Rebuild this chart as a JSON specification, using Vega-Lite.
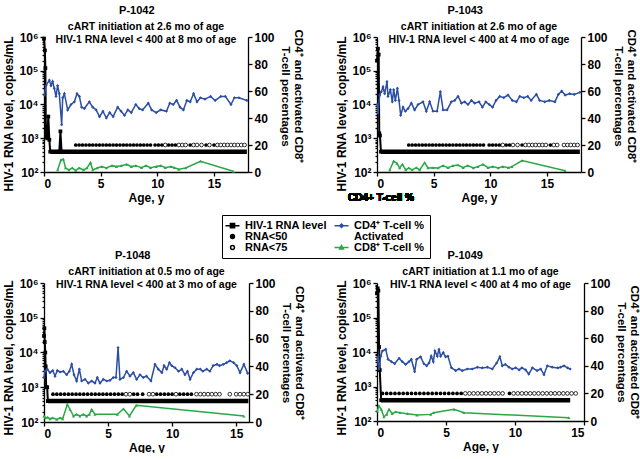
{
"$schema": "https://vega.github.io/schema/vega-lite/v6.json",
"padding": {"left": 2, "top": 5, "right": 0, "bottom": 0},
"background": "white",
"config": {
 "font": "Liberation Sans",
 "view": {"stroke": null},
 "axis": {"grid": false, "domainColor": "black", "domainWidth": 1.3, "tickColor": "black", "tickWidth": 1.3, "tickSize": 4, "labelColor": "black", "titleColor": "black", "labelFontSize": 12, "labelFontWeight": "bold", "titleFontSize": 11.5, "titleFontWeight": "bold", "labelPadding": 2},
 "axisX": {"titlePadding": 3, "titleFontSize": 12},
 "title": {"fontSize": 11, "fontWeight": "bold", "color": "black", "subtitleFontSize": 10.5, "subtitleFontWeight": "bold", "subtitleColor": "black", "subtitlePadding": 6, "subtitleLineHeight": 12.5, "offset": -16, "frame": "group", "anchor": "middle"}
},
"columns": 2,
"bounds": "flush",
"spacing": {"row": 111, "column": 128},
"concat": [
{
 "width": 204, "height": 135,
 "title": {"text": "P-1042\u00a0\u00a0\u00a0\u00a0\u00a0\u00a0\u200b", "subtitle": ["cART initiation at 2.6 mo of age", "HIV-1 RNA level < 400 at 8 mo of age"]},
 "data": {"values": [
  {"s":"hiv","a":0,"v":900000},{"s":"hiv","a":0.08,"v":400000},{"s":"hiv","a":0.12,"v":120000},{"s":"hiv","a":0.17,"v":1100},{"s":"hiv","a":0.28,"v":1000},{"s":"hiv","a":0.38,"v":4400},{"s":"hiv","a":0.47,"v":900},{"s":"hiv","a":0.55,"v":400},{"s":"hiv","a":1.35,"v":400},{"s":"hiv","a":1.45,"v":1600},{"s":"hiv","a":1.55,"v":400},
  {"s":"lo","a":0.55,"v":400},{"s":"lo","a":17.9,"v":400},
  {"s":"cd4","a":0.03,"v":57},{"s":"cd4","a":0.18,"v":64},{"s":"cd4","a":0.47,"v":68},{"s":"cd4","a":0.62,"v":64},{"s":"cd4","a":0.76,"v":67},{"s":"cd4","a":0.91,"v":62},{"s":"cd4","a":1.06,"v":56},{"s":"cd4","a":1.2,"v":64},{"s":"cd4","a":1.35,"v":58},{"s":"cd4","a":1.56,"v":35},{"s":"cd4","a":1.65,"v":55},{"s":"cd4","a":1.8,"v":58},{"s":"cd4","a":2.09,"v":46},{"s":"cd4","a":2.38,"v":50},{"s":"cd4","a":2.68,"v":52},{"s":"cd4","a":2.91,"v":58},{"s":"cd4","a":3.12,"v":56},{"s":"cd4","a":3.32,"v":48},{"s":"cd4","a":3.56,"v":47},{"s":"cd4","a":4.0,"v":52},{"s":"cd4","a":4.3,"v":48},{"s":"cd4","a":4.6,"v":46},{"s":"cd4","a":4.9,"v":41},{"s":"cd4","a":5.2,"v":45},{"s":"cd4","a":5.5,"v":40},{"s":"cd4","a":5.8,"v":44},{"s":"cd4","a":6.1,"v":41},{"s":"cd4","a":6.5,"v":48},{"s":"cd4","a":6.8,"v":45},{"s":"cd4","a":7.1,"v":42},{"s":"cd4","a":7.4,"v":46},{"s":"cd4","a":7.7,"v":44},{"s":"cd4","a":8.1,"v":50},{"s":"cd4","a":8.4,"v":47},{"s":"cd4","a":8.7,"v":46},{"s":"cd4","a":9.2,"v":51},{"s":"cd4","a":9.5,"v":46},{"s":"cd4","a":9.9,"v":44},{"s":"cd4","a":10.3,"v":46},{"s":"cd4","a":10.8,"v":45},{"s":"cd4","a":11.1,"v":51},{"s":"cd4","a":11.4,"v":50},{"s":"cd4","a":11.7,"v":53},{"s":"cd4","a":12.0,"v":48},{"s":"cd4","a":12.3,"v":46},{"s":"cd4","a":12.6,"v":53},{"s":"cd4","a":12.9,"v":52},{"s":"cd4","a":13.2,"v":58},{"s":"cd4","a":13.5,"v":52},{"s":"cd4","a":13.8,"v":55},{"s":"cd4","a":14.2,"v":54},{"s":"cd4","a":14.7,"v":56},{"s":"cd4","a":15.1,"v":53},{"s":"cd4","a":15.6,"v":56},{"s":"cd4","a":16.0,"v":56},{"s":"cd4","a":16.5,"v":50},{"s":"cd4","a":16.8,"v":55},{"s":"cd4","a":17.2,"v":55},{"s":"cd4","a":17.9,"v":53},
  {"s":"cd8","a":1.2,"v":1.5},{"s":"cd8","a":1.5,"v":9},{"s":"cd8","a":1.7,"v":9.5},{"s":"cd8","a":1.9,"v":3},{"s":"cd8","a":2.2,"v":1.5},{"s":"cd8","a":2.5,"v":3},{"s":"cd8","a":2.8,"v":1},{"s":"cd8","a":3.1,"v":3},{"s":"cd8","a":3.5,"v":1.5},{"s":"cd8","a":3.8,"v":3},{"s":"cd8","a":4.1,"v":7},{"s":"cd8","a":4.3,"v":1.5},{"s":"cd8","a":4.7,"v":3},{"s":"cd8","a":5.1,"v":4},{"s":"cd8","a":5.5,"v":3},{"s":"cd8","a":6.0,"v":4.7},{"s":"cd8","a":6.4,"v":4},{"s":"cd8","a":6.8,"v":4.7},{"s":"cd8","a":7.3,"v":5.7},{"s":"cd8","a":7.7,"v":4},{"s":"cd8","a":8.1,"v":4.7},{"s":"cd8","a":8.6,"v":3.2},{"s":"cd8","a":9.0,"v":4.7},{"s":"cd8","a":9.4,"v":3.2},{"s":"cd8","a":9.9,"v":4},{"s":"cd8","a":10.3,"v":4.7},{"s":"cd8","a":10.7,"v":3.2},{"s":"cd8","a":11.2,"v":4},{"s":"cd8","a":11.5,"v":3.2},{"s":"cd8","a":11.9,"v":2},{"s":"cd8","a":12.5,"v":3},{"s":"cd8","a":13.8,"v":8},{"s":"cd8","a":16.7,"v":0.5},
  {"s":"lt50","a":2.8,"v":20},{"s":"lt50","a":3.1,"v":20},{"s":"lt50","a":3.4,"v":20},{"s":"lt50","a":3.7,"v":20},{"s":"lt50","a":4.0,"v":20},{"s":"lt50","a":4.3,"v":20},{"s":"lt50","a":4.6,"v":20},{"s":"lt50","a":4.9,"v":20},{"s":"lt50","a":5.2,"v":20},{"s":"lt50","a":5.5,"v":20},{"s":"lt50","a":5.8,"v":20},{"s":"lt50","a":6.1,"v":20},{"s":"lt50","a":6.4,"v":20},{"s":"lt50","a":6.7,"v":20},{"s":"lt50","a":7.0,"v":20},{"s":"lt50","a":7.3,"v":20},{"s":"lt50","a":7.6,"v":20},{"s":"lt50","a":7.9,"v":20},{"s":"lt50","a":8.2,"v":20},{"s":"lt50","a":8.5,"v":20},{"s":"lt50","a":8.8,"v":20},{"s":"lt50","a":9.1,"v":20},{"s":"lt50","a":9.4,"v":20},{"s":"lt50","a":9.8,"v":20},{"s":"lt50","a":10.1,"v":20},{"s":"lt50","a":10.4,"v":20},{"s":"lt50","a":11.0,"v":20},{"s":"lt50","a":11.3,"v":20},{"s":"lt50","a":11.6,"v":20},{"s":"lt50","a":12.9,"v":20},{"s":"lt50","a":14.3,"v":20},{"s":"lt50","a":15.0,"v":20},
  {"s":"lt75","a":10.7,"v":20},{"s":"lt75","a":11.9,"v":20},{"s":"lt75","a":12.2,"v":20},{"s":"lt75","a":12.5,"v":20},{"s":"lt75","a":13.2,"v":20},{"s":"lt75","a":13.5,"v":20},{"s":"lt75","a":13.9,"v":20},{"s":"lt75","a":14.6,"v":20},{"s":"lt75","a":15.3,"v":20},{"s":"lt75","a":15.6,"v":20},{"s":"lt75","a":15.9,"v":20},{"s":"lt75","a":16.2,"v":20},{"s":"lt75","a":16.5,"v":20},{"s":"lt75","a":16.8,"v":20},{"s":"lt75","a":17.1,"v":20},{"s":"lt75","a":17.4,"v":20},{"s":"lt75","a":17.7,"v":20}
 ]},
 "encoding": {"x": {"field": "a", "type": "quantitative", "scale": {"domain": [0, 18], "nice": false}, "axis": {"values": [0, 5, 10, 15], "title": "Age, y"}}},
 "layer": [
  {"encoding": {"y": {"field": "v", "type": "quantitative", "scale": {"type": "log", "domain": [100, 1000000], "nice": false}, "axis": {"values": [100,200,300,400,500,600,700,800,900,1000,2000,3000,4000,5000,6000,7000,8000,9000,10000,20000,30000,40000,50000,60000,70000,80000,90000,100000,200000,300000,400000,500000,600000,700000,800000,900000,1000000], "tickSize": {"condition": {"test": "abs(log(datum.value)/LN10 - round(log(datum.value)/LN10)) < 0.01", "value": 4}, "value": 2}, "labelExpr": "abs(log(datum.value)/LN10 - round(log(datum.value)/LN10)) < 0.01 ? '10' + ['⁰','¹','²','³','⁴','⁵','⁶'][round(log(datum.value)/LN10)] : ''", "title": "HIV-1 RNA level, copies/mL", "titleFontSize": 12, "titlePadding": 3, "titleY": 76.5}}},
   "layer": [
    {"transform": [{"filter": "datum.s == 'lo'"}], "mark": {"type": "line", "color": "black", "strokeWidth": 4.5}},
    {"transform": [{"filter": "datum.s == 'hiv'"}], "mark": {"type": "line", "color": "black", "strokeWidth": 2, "point": {"shape": "square", "size": 14, "filled": true, "color": "black", "opacity": 1}}}
   ]},
  {"encoding": {"y": {"field": "v", "type": "quantitative", "scale": {"domain": [0, 100], "nice": false}, "axis": {"orient": "right", "values": [0, 20, 40, 60, 80, 100], "title": ["CD4⁺ and activated CD8⁺", "T-cell percentages"], "titleLineHeight": 13, "titlePadding": 5, "titleY": 59}}},
   "layer": [
    {"transform": [{"filter": "datum.s == 'cd4'"}], "mark": {"type": "line", "color": "#2c4ea3", "strokeWidth": 1.5, "point": {"shape": "diamond", "size": 10, "filled": true, "color": "#2c4ea3", "opacity": 1}}},
    {"transform": [{"filter": "datum.s == 'cd8'"}], "mark": {"type": "line", "color": "#2aa845", "strokeWidth": 1.5, "point": {"shape": "triangle-up", "size": 10, "filled": true, "color": "#2aa845", "opacity": 1}}},
    {"transform": [{"filter": "datum.s == 'lt50'"}], "mark": {"type": "point", "shape": "circle", "size": 14, "filled": true, "color": "black", "opacity": 1}},
    {"transform": [{"filter": "datum.s == 'lt75'"}], "mark": {"type": "point", "shape": "circle", "size": 14, "filled": true, "fill": "white", "stroke": "black", "strokeWidth": 0.8, "opacity": 1}},
    {"transform": [{"filter": "datum.s == 'none'"}], "mark": {"type": "point", "filled": true, "opacity": 1, "strokeWidth": 1.5},
     "encoding": {
      "fill": {"field": "s", "type": "nominal", "scale": {"domain": ["hiv","lt50","lt75","cd4","cd8a","cd8"], "range": ["black","black","white","#2c4ea3","transparent","#2aa845"]},
        "legend": {"orient": "none", "legendX": 178, "legendY": 178, "title": null, "columns": 2, "columnPadding": 4, "rowPadding": -2.5, "padding": 5, "strokeColor": "black", "symbolSize": 49, "symbolStrokeWidth": 1.5, "labelOffset": 7, "labelFontSize": 11, "labelFontWeight": "bold", "labelColor": "black", "labelLimit": 200,
          "labelExpr": "datum.label == 'hiv' ? 'HIV-1 RNA level' : datum.label == 'cd4' ? 'CD4⁺ T-cell %' : datum.label == 'lt50' ? 'RNA<50' : datum.label == 'cd8a' ? 'Activated' : datum.label == 'lt75' ? 'RNA<75' : 'CD8⁺ T-cell %'",
          "encode": {"labels": {"update": {"fontSize": {"signal": "datum.value == 'cd8' ? 8.5 : datum.value == 'cd4' ? 9.5 : 11"}, "dy": {"signal": "datum.value == 'cd8a' ? 8 : datum.value == 'cd8' ? 6 : 0"}}}}}},
      "stroke": {"field": "s", "type": "nominal", "scale": {"domain": ["hiv","lt50","lt75","cd4","cd8a","cd8"], "range": ["black","black","black","#2c4ea3","transparent","#2aa845"]}},
      "shape": {"field": "s", "type": "nominal", "scale": {"domain": ["hiv","lt50","lt75","cd4","cd8a","cd8"], "range": ["M-2,0H2M-0.6,-0.6H0.6V0.6H-0.6Z","M-0.55,0A0.55,0.55,0,1,0,0.55,0A0.55,0.55,0,1,0,-0.55,0Z","M-0.55,0A0.55,0.55,0,1,0,0.55,0A0.55,0.55,0,1,0,-0.55,0Z","M-2,0H2M0,-0.5L0.5,0L0,0.5L-0.5,0Z","M0,0","M-2,0H2M0,-0.55L0.55,0.45H-0.55Z"]}}
     }}
   ]}
 ],
 "resolve": {"scale": {"y": "independent"}}
},
{
 "width": 204, "height": 135,
 "title": {"text": "P-1043\u00a0\u00a0\u00a0\u00a0\u00a0\u00a0\u00a0\u00a0\u00a0\u200b", "subtitle": ["cART initiation at 2.6 mo of age", "HIV-1 RNA level < 400 at 4 mo of age"]},
 "data": {"values": [
  {"s":"hiv","a":0,"v":200000},{"s":"hiv","a":0.08,"v":450000},{"s":"hiv","a":0.15,"v":300000},{"s":"hiv","a":0.2,"v":1400},{"s":"hiv","a":0.26,"v":1200},{"s":"hiv","a":0.35,"v":400},
  {"s":"lo","a":0.35,"v":400},{"s":"lo","a":17.9,"v":400},
  {"s":"cd4","a":0.02,"v":50},{"s":"cd4","a":0.09,"v":43.5},{"s":"cd4","a":0.24,"v":57},{"s":"cd4","a":0.38,"v":59.5},{"s":"cd4","a":0.53,"v":63},{"s":"cd4","a":0.68,"v":58},{"s":"cd4","a":0.88,"v":67},{"s":"cd4","a":0.97,"v":56},{"s":"cd4","a":1.18,"v":61},{"s":"cd4","a":1.35,"v":52},{"s":"cd4","a":1.47,"v":61},{"s":"cd4","a":1.62,"v":53},{"s":"cd4","a":1.8,"v":62},{"s":"cd4","a":1.94,"v":53},{"s":"cd4","a":2.09,"v":42},{"s":"cd4","a":2.3,"v":48},{"s":"cd4","a":2.5,"v":45},{"s":"cd4","a":2.74,"v":47},{"s":"cd4","a":3.03,"v":51},{"s":"cd4","a":3.32,"v":46},{"s":"cd4","a":3.62,"v":50},{"s":"cd4","a":4.06,"v":52},{"s":"cd4","a":4.35,"v":45},{"s":"cd4","a":4.65,"v":52},{"s":"cd4","a":4.94,"v":45},{"s":"cd4","a":5.3,"v":45},{"s":"cd4","a":5.59,"v":59.5},{"s":"cd4","a":5.83,"v":46},{"s":"cd4","a":6.18,"v":46},{"s":"cd4","a":6.56,"v":52},{"s":"cd4","a":6.86,"v":53},{"s":"cd4","a":7.15,"v":56},{"s":"cd4","a":7.45,"v":51},{"s":"cd4","a":7.74,"v":52},{"s":"cd4","a":8.03,"v":50},{"s":"cd4","a":8.33,"v":53},{"s":"cd4","a":8.62,"v":51},{"s":"cd4","a":9.0,"v":52},{"s":"cd4","a":9.3,"v":48},{"s":"cd4","a":9.6,"v":52},{"s":"cd4","a":9.9,"v":50},{"s":"cd4","a":10.2,"v":48},{"s":"cd4","a":10.5,"v":53},{"s":"cd4","a":10.83,"v":56},{"s":"cd4","a":11.18,"v":55},{"s":"cd4","a":11.56,"v":57},{"s":"cd4","a":11.94,"v":53},{"s":"cd4","a":12.3,"v":52},{"s":"cd4","a":12.6,"v":56},{"s":"cd4","a":12.95,"v":55},{"s":"cd4","a":13.3,"v":56},{"s":"cd4","a":13.6,"v":53},{"s":"cd4","a":14.06,"v":57.5},{"s":"cd4","a":14.35,"v":53},{"s":"cd4","a":14.8,"v":52},{"s":"cd4","a":15.2,"v":53},{"s":"cd4","a":15.7,"v":52},{"s":"cd4","a":16.0,"v":57.5},{"s":"cd4","a":16.3,"v":60},{"s":"cd4","a":16.6,"v":57},{"s":"cd4","a":17.0,"v":58},{"s":"cd4","a":17.4,"v":57.5},{"s":"cd4","a":17.9,"v":59},
  {"s":"cd8","a":1.12,"v":1.5},{"s":"cd8","a":1.47,"v":8},{"s":"cd8","a":1.76,"v":6.4},{"s":"cd8","a":2.0,"v":3},{"s":"cd8","a":2.24,"v":5.7},{"s":"cd8","a":2.53,"v":1.5},{"s":"cd8","a":2.8,"v":3},{"s":"cd8","a":3.1,"v":1.5},{"s":"cd8","a":3.47,"v":3.2},{"s":"cd8","a":3.77,"v":1.5},{"s":"cd8","a":4.2,"v":7},{"s":"cd8","a":4.5,"v":3},{"s":"cd8","a":4.94,"v":3.2},{"s":"cd8","a":5.4,"v":3},{"s":"cd8","a":5.83,"v":4.7},{"s":"cd8","a":6.27,"v":3.2},{"s":"cd8","a":6.7,"v":4.7},{"s":"cd8","a":7.15,"v":5.2},{"s":"cd8","a":7.6,"v":3.2},{"s":"cd8","a":8.0,"v":4.7},{"s":"cd8","a":8.5,"v":3},{"s":"cd8","a":8.9,"v":4},{"s":"cd8","a":9.35,"v":5.7},{"s":"cd8","a":9.8,"v":3.2},{"s":"cd8","a":10.2,"v":4},{"s":"cd8","a":10.7,"v":3},{"s":"cd8","a":11.1,"v":4},{"s":"cd8","a":11.6,"v":3.2},{"s":"cd8","a":11.9,"v":4},{"s":"cd8","a":12.8,"v":8.5},{"s":"cd8","a":16.6,"v":1},
  {"s":"lt50","a":2.8,"v":20},{"s":"lt50","a":3.1,"v":20},{"s":"lt50","a":3.4,"v":20},{"s":"lt50","a":3.7,"v":20},{"s":"lt50","a":4.0,"v":20},{"s":"lt50","a":4.3,"v":20},{"s":"lt50","a":4.6,"v":20},{"s":"lt50","a":4.9,"v":20},{"s":"lt50","a":5.2,"v":20},{"s":"lt50","a":5.5,"v":20},{"s":"lt50","a":5.8,"v":20},{"s":"lt50","a":6.1,"v":20},{"s":"lt50","a":6.4,"v":20},{"s":"lt50","a":6.7,"v":20},{"s":"lt50","a":7.0,"v":20},{"s":"lt50","a":7.3,"v":20},{"s":"lt50","a":7.6,"v":20},{"s":"lt50","a":7.9,"v":20},{"s":"lt50","a":8.2,"v":20},{"s":"lt50","a":8.5,"v":20},{"s":"lt50","a":8.8,"v":20},{"s":"lt50","a":9.1,"v":20},{"s":"lt50","a":9.4,"v":20},{"s":"lt50","a":9.9,"v":20},{"s":"lt50","a":10.2,"v":20},{"s":"lt50","a":10.5,"v":20},{"s":"lt50","a":10.8,"v":20},{"s":"lt50","a":11.4,"v":20},{"s":"lt50","a":11.7,"v":20},{"s":"lt50","a":12.8,"v":20},{"s":"lt50","a":15.3,"v":20},
  {"s":"lt75","a":11.1,"v":20},{"s":"lt75","a":12.0,"v":20},{"s":"lt75","a":12.4,"v":20},{"s":"lt75","a":13.1,"v":20},{"s":"lt75","a":13.4,"v":20},{"s":"lt75","a":13.7,"v":20},{"s":"lt75","a":14.0,"v":20},{"s":"lt75","a":14.3,"v":20},{"s":"lt75","a":14.6,"v":20},{"s":"lt75","a":14.9,"v":20},{"s":"lt75","a":15.6,"v":20},{"s":"lt75","a":15.9,"v":20},{"s":"lt75","a":16.5,"v":20},{"s":"lt75","a":16.8,"v":20},{"s":"lt75","a":17.1,"v":20},{"s":"lt75","a":17.4,"v":20},{"s":"lt75","a":17.7,"v":20}
 ]},
 "encoding": {"x": {"field": "a", "type": "quantitative", "scale": {"domain": [0, 18], "nice": false}, "axis": {"values": [0, 5, 10, 15], "title": "Age, y"}}},
 "layer": [
  {"encoding": {"y": {"field": "v", "type": "quantitative", "scale": {"type": "log", "domain": [100, 1000000], "nice": false}, "axis": {"values": [100,200,300,400,500,600,700,800,900,1000,2000,3000,4000,5000,6000,7000,8000,9000,10000,20000,30000,40000,50000,60000,70000,80000,90000,100000,200000,300000,400000,500000,600000,700000,800000,900000,1000000], "tickSize": {"condition": {"test": "abs(log(datum.value)/LN10 - round(log(datum.value)/LN10)) < 0.01", "value": 4}, "value": 2}, "labelExpr": "abs(log(datum.value)/LN10 - round(log(datum.value)/LN10)) < 0.01 ? '10' + ['⁰','¹','²','³','⁴','⁵','⁶'][round(log(datum.value)/LN10)] : ''", "title": "HIV-1 RNA level, copies/mL", "titleFontSize": 12, "titlePadding": 3, "titleY": 76.5}}},
   "layer": [
    {"transform": [{"filter": "datum.s == 'lo'"}], "mark": {"type": "line", "color": "black", "strokeWidth": 4.5}},
    {"transform": [{"filter": "datum.s == 'hiv'"}], "mark": {"type": "line", "color": "black", "strokeWidth": 2, "point": {"shape": "square", "size": 14, "filled": true, "color": "black", "opacity": 1}}}
   ]},
  {"encoding": {"y": {"field": "v", "type": "quantitative", "scale": {"domain": [0, 100], "nice": false}, "axis": {"orient": "right", "values": [0, 20, 40, 60, 80, 100], "title": ["CD4⁺ and activated CD8⁺", "T-cell percentages"], "titleLineHeight": 13, "titlePadding": 5, "titleY": 59}}},
   "layer": [
    {"transform": [{"filter": "datum.s == 'cd4'"}], "mark": {"type": "line", "color": "#2c4ea3", "strokeWidth": 1.5, "point": {"shape": "diamond", "size": 10, "filled": true, "color": "#2c4ea3", "opacity": 1}}},
    {"transform": [{"filter": "datum.s == 'cd8'"}], "mark": {"type": "line", "color": "#2aa845", "strokeWidth": 1.5, "point": {"shape": "triangle-up", "size": 10, "filled": true, "color": "#2aa845", "opacity": 1}}},
    {"transform": [{"filter": "datum.s == 'lt50'"}], "mark": {"type": "point", "shape": "circle", "size": 14, "filled": true, "color": "black", "opacity": 1}},
    {"transform": [{"filter": "datum.s == 'lt75'"}], "mark": {"type": "point", "shape": "circle", "size": 14, "filled": true, "fill": "white", "stroke": "black", "strokeWidth": 0.8, "opacity": 1}},
    {"mark": {"type": "text", "text": "CD4+ T-cell %", "fontSize": 10, "fontWeight": "bold", "color": "black", "align": "center"}, "encoding": {"x": {"datum": 0.35}, "y": {"datum": -19}}}
   ]}
 ],
 "resolve": {"scale": {"y": "independent"}}
},
{
 "width": 205, "height": 139,
 "title": {"text": "P-1048\u00a0\u00a0\u00a0\u00a0\u00a0\u00a0\u00a0\u00a0\u00a0\u200b", "subtitle": ["cART initiation at 0.5 mo of age", "HIV-1 RNA level < 400 at 3 mo of age"], "offset": -13},
 "data": {"values": [
  {"s":"hiv","a":0,"v":30000},{"s":"hiv","a":0.03,"v":50000},{"s":"hiv","a":0.06,"v":20000},{"s":"hiv","a":0.1,"v":10000},{"s":"hiv","a":0.13,"v":4000},{"s":"hiv","a":0.17,"v":1000},{"s":"hiv","a":0.25,"v":1000},{"s":"hiv","a":0.3,"v":400},
  {"s":"lo","a":0.3,"v":400},{"s":"lo","a":15.95,"v":400},
  {"s":"cd4","a":0,"v":32},{"s":"cd4","a":0.08,"v":36.7},{"s":"cd4","a":0.26,"v":38},{"s":"cd4","a":0.47,"v":35.5},{"s":"cd4","a":0.68,"v":37},{"s":"cd4","a":0.86,"v":33},{"s":"cd4","a":1.04,"v":37},{"s":"cd4","a":1.25,"v":36},{"s":"cd4","a":1.51,"v":36.5},{"s":"cd4","a":1.77,"v":34},{"s":"cd4","a":1.98,"v":36.5},{"s":"cd4","a":2.16,"v":41.5},{"s":"cd4","a":2.34,"v":34},{"s":"cd4","a":2.55,"v":29.5},{"s":"cd4","a":2.76,"v":38},{"s":"cd4","a":2.94,"v":29.5},{"s":"cd4","a":3.2,"v":30.7},{"s":"cd4","a":3.46,"v":28},{"s":"cd4","a":3.72,"v":29.5},{"s":"cd4","a":3.98,"v":28},{"s":"cd4","a":4.16,"v":32},{"s":"cd4","a":4.37,"v":28},{"s":"cd4","a":4.63,"v":30.7},{"s":"cd4","a":4.9,"v":29.5},{"s":"cd4","a":5.15,"v":30},{"s":"cd4","a":5.41,"v":32},{"s":"cd4","a":5.62,"v":32},{"s":"cd4","a":5.78,"v":53.5},{"s":"cd4","a":5.93,"v":30.7},{"s":"cd4","a":6.2,"v":32},{"s":"cd4","a":6.45,"v":36.5},{"s":"cd4","a":6.71,"v":33},{"s":"cd4","a":6.97,"v":35.5},{"s":"cd4","a":7.23,"v":30.7},{"s":"cd4","a":7.49,"v":34},{"s":"cd4","a":7.75,"v":32},{"s":"cd4","a":8.0,"v":33},{"s":"cd4","a":8.35,"v":29.5},{"s":"cd4","a":8.66,"v":41.5},{"s":"cd4","a":8.92,"v":38},{"s":"cd4","a":9.2,"v":35.5},{"s":"cd4","a":9.37,"v":40.5},{"s":"cd4","a":9.58,"v":38},{"s":"cd4","a":9.79,"v":42.7},{"s":"cd4","a":9.97,"v":40.5},{"s":"cd4","a":10.23,"v":39},{"s":"cd4","a":10.5,"v":36.5},{"s":"cd4","a":10.75,"v":38},{"s":"cd4","a":11.0,"v":34},{"s":"cd4","a":11.2,"v":36.5},{"s":"cd4","a":11.4,"v":30.7},{"s":"cd4","a":11.66,"v":35.5},{"s":"cd4","a":11.92,"v":38},{"s":"cd4","a":12.2,"v":38},{"s":"cd4","a":12.4,"v":36.5},{"s":"cd4","a":12.7,"v":38},{"s":"cd4","a":12.95,"v":36.5},{"s":"cd4","a":13.2,"v":40.5},{"s":"cd4","a":13.5,"v":41.5},{"s":"cd4","a":13.7,"v":40.5},{"s":"cd4","a":14.0,"v":41.5},{"s":"cd4","a":14.26,"v":42.7},{"s":"cd4","a":14.5,"v":44},{"s":"cd4","a":14.8,"v":42.7},{"s":"cd4","a":15.05,"v":40.5},{"s":"cd4","a":15.3,"v":35.5},{"s":"cd4","a":15.6,"v":41.5},{"s":"cd4","a":15.9,"v":35},
  {"s":"cd8","a":0,"v":4.3},{"s":"cd8","a":0.1,"v":3},{"s":"cd8","a":0.29,"v":3.4},{"s":"cd8","a":0.47,"v":2.3},{"s":"cd8","a":0.68,"v":3},{"s":"cd8","a":0.99,"v":1.8},{"s":"cd8","a":1.25,"v":3},{"s":"cd8","a":1.46,"v":2.3},{"s":"cd8","a":1.82,"v":12.7},{"s":"cd8","a":2.03,"v":9},{"s":"cd8","a":2.3,"v":4.3},{"s":"cd8","a":2.55,"v":5.5},{"s":"cd8","a":2.8,"v":4.3},{"s":"cd8","a":3.07,"v":5.5},{"s":"cd8","a":3.33,"v":4.3},{"s":"cd8","a":3.54,"v":5.5},{"s":"cd8","a":3.72,"v":9},{"s":"cd8","a":3.98,"v":5.5},{"s":"cd8","a":5.73,"v":5.5},{"s":"cd8","a":6.2,"v":9.5},{"s":"cd8","a":6.67,"v":4.3},{"s":"cd8","a":7.2,"v":12},{"s":"cd8","a":15.6,"v":4.3},
  {"s":"lt50","a":0.7,"v":20},{"s":"lt50","a":1.0,"v":20},{"s":"lt50","a":1.3,"v":20},{"s":"lt50","a":1.6,"v":20},{"s":"lt50","a":1.9,"v":20},{"s":"lt50","a":2.2,"v":20},{"s":"lt50","a":2.5,"v":20},{"s":"lt50","a":2.8,"v":20},{"s":"lt50","a":3.1,"v":20},{"s":"lt50","a":3.4,"v":20},{"s":"lt50","a":3.7,"v":20},{"s":"lt50","a":4.0,"v":20},{"s":"lt50","a":4.3,"v":20},{"s":"lt50","a":4.6,"v":20},{"s":"lt50","a":4.9,"v":20},{"s":"lt50","a":5.2,"v":20},{"s":"lt50","a":5.5,"v":20},{"s":"lt50","a":5.8,"v":20},{"s":"lt50","a":6.1,"v":20},{"s":"lt50","a":7.0,"v":20},{"s":"lt50","a":7.3,"v":20},{"s":"lt50","a":7.7,"v":20},{"s":"lt50","a":8.8,"v":20},{"s":"lt50","a":9.1,"v":20},{"s":"lt50","a":9.4,"v":20},{"s":"lt50","a":9.7,"v":20},{"s":"lt50","a":10.0,"v":20},{"s":"lt50","a":10.6,"v":20},{"s":"lt50","a":10.9,"v":20},{"s":"lt50","a":11.2,"v":20},{"s":"lt50","a":11.5,"v":20},
  {"s":"lt75","a":6.4,"v":20},{"s":"lt75","a":6.7,"v":20},{"s":"lt75","a":8.2,"v":20},{"s":"lt75","a":8.5,"v":20},{"s":"lt75","a":10.3,"v":20},{"s":"lt75","a":11.9,"v":20},{"s":"lt75","a":12.2,"v":20},{"s":"lt75","a":12.5,"v":20},{"s":"lt75","a":12.8,"v":20},{"s":"lt75","a":13.1,"v":20},{"s":"lt75","a":13.4,"v":20},{"s":"lt75","a":13.7,"v":20},{"s":"lt75","a":14.5,"v":20},{"s":"lt75","a":15.0,"v":20},{"s":"lt75","a":15.3,"v":20},{"s":"lt75","a":15.6,"v":20},{"s":"lt75","a":15.9,"v":20}
 ]},
 "encoding": {"x": {"field": "a", "type": "quantitative", "scale": {"domain": [0, 16], "nice": false}, "axis": {"values": [0, 5, 10, 15], "title": "Age, y"}}},
 "layer": [
  {"encoding": {"y": {"field": "v", "type": "quantitative", "scale": {"type": "log", "domain": [100, 1000000], "nice": false}, "axis": {"values": [100,200,300,400,500,600,700,800,900,1000,2000,3000,4000,5000,6000,7000,8000,9000,10000,20000,30000,40000,50000,60000,70000,80000,90000,100000,200000,300000,400000,500000,600000,700000,800000,900000,1000000], "tickSize": {"condition": {"test": "abs(log(datum.value)/LN10 - round(log(datum.value)/LN10)) < 0.01", "value": 4}, "value": 2}, "labelExpr": "abs(log(datum.value)/LN10 - round(log(datum.value)/LN10)) < 0.01 ? '10' + ['⁰','¹','²','³','⁴','⁵','⁶'][round(log(datum.value)/LN10)] : ''", "title": "HIV-1 RNA level, copies/mL", "titleFontSize": 12, "titlePadding": 3, "titleY": 74.5}}},
   "layer": [
    {"transform": [{"filter": "datum.s == 'lo'"}], "mark": {"type": "line", "color": "black", "strokeWidth": 4.5}},
    {"transform": [{"filter": "datum.s == 'hiv'"}], "mark": {"type": "line", "color": "black", "strokeWidth": 2, "point": {"shape": "square", "size": 14, "filled": true, "color": "black", "opacity": 1}}}
   ]},
  {"encoding": {"y": {"field": "v", "type": "quantitative", "scale": {"domain": [0, 100], "nice": false}, "axis": {"orient": "right", "values": [0, 20, 40, 60, 80, 100], "title": ["CD4⁺ and activated CD8⁺", "T-cell percentages"], "titleLineHeight": 13, "titlePadding": 5}}},
   "layer": [
    {"transform": [{"filter": "datum.s == 'cd4'"}], "mark": {"type": "line", "color": "#2c4ea3", "strokeWidth": 1.5, "point": {"shape": "diamond", "size": 10, "filled": true, "color": "#2c4ea3", "opacity": 1}}},
    {"transform": [{"filter": "datum.s == 'cd8'"}], "mark": {"type": "line", "color": "#2aa845", "strokeWidth": 1.5, "point": {"shape": "triangle-up", "size": 10, "filled": true, "color": "#2aa845", "opacity": 1}}},
    {"transform": [{"filter": "datum.s == 'lt50'"}], "mark": {"type": "point", "shape": "circle", "size": 14, "filled": true, "color": "black", "opacity": 1}},
    {"transform": [{"filter": "datum.s == 'lt75'"}], "mark": {"type": "point", "shape": "circle", "size": 14, "filled": true, "fill": "white", "stroke": "black", "strokeWidth": 0.8, "opacity": 1}}
   ]}
 ],
 "resolve": {"scale": {"y": "independent"}}
},
{
 "width": 207, "height": 138,
 "title": {"text": "P-1049\u00a0\u00a0\u00a0\u00a0\u00a0\u00a0\u00a0\u00a0\u00a0\u00a0\u200b", "subtitle": ["cART initiation at 1.1 mo of age", "HIV-1 RNA level < 400 at 4 mo of age"], "offset": -13},
 "data": {"values": [
  {"s":"hiv","a":0,"v":500000},{"s":"hiv","a":0.05,"v":700000},{"s":"hiv","a":0.1,"v":600000},{"s":"hiv","a":0.15,"v":14000},{"s":"hiv","a":0.2,"v":3000},{"s":"hiv","a":0.3,"v":400},
  {"s":"lo","a":0.3,"v":400},{"s":"lo","a":14.0,"v":400},
  {"s":"cd4","a":0.02,"v":46},{"s":"cd4","a":0.14,"v":37.5},{"s":"cd4","a":0.27,"v":47},{"s":"cd4","a":0.39,"v":50.7},{"s":"cd4","a":0.63,"v":52},{"s":"cd4","a":0.8,"v":44.7},{"s":"cd4","a":1.04,"v":43},{"s":"cd4","a":1.28,"v":41.5},{"s":"cd4","a":1.6,"v":45.5},{"s":"cd4","a":1.83,"v":43},{"s":"cd4","a":2.08,"v":41},{"s":"cd4","a":2.32,"v":43},{"s":"cd4","a":2.49,"v":44.7},{"s":"cd4","a":2.73,"v":35.7},{"s":"cd4","a":2.87,"v":44.7},{"s":"cd4","a":3.16,"v":46.5},{"s":"cd4","a":3.4,"v":41.5},{"s":"cd4","a":3.6,"v":40},{"s":"cd4","a":3.77,"v":42},{"s":"cd4","a":3.93,"v":47},{"s":"cd4","a":4.08,"v":43},{"s":"cd4","a":4.2,"v":50.7},{"s":"cd4","a":4.37,"v":47},{"s":"cd4","a":4.49,"v":52},{"s":"cd4","a":4.61,"v":47},{"s":"cd4","a":4.8,"v":49.5},{"s":"cd4","a":4.97,"v":46.5},{"s":"cd4","a":5.14,"v":47},{"s":"cd4","a":5.39,"v":38.6},{"s":"cd4","a":5.7,"v":36.5},{"s":"cd4","a":5.94,"v":37.7},{"s":"cd4","a":6.18,"v":36.5},{"s":"cd4","a":6.54,"v":37.7},{"s":"cd4","a":6.9,"v":37.7},{"s":"cd4","a":7.27,"v":39},{"s":"cd4","a":7.63,"v":38.5},{"s":"cd4","a":8.0,"v":39},{"s":"cd4","a":8.36,"v":37.7},{"s":"cd4","a":8.67,"v":42},{"s":"cd4","a":8.9,"v":46.5},{"s":"cd4","a":9.08,"v":40},{"s":"cd4","a":9.3,"v":41},{"s":"cd4","a":9.56,"v":39},{"s":"cd4","a":9.8,"v":37.7},{"s":"cd4","a":10.05,"v":38.6},{"s":"cd4","a":10.3,"v":37},{"s":"cd4","a":10.5,"v":38.5},{"s":"cd4","a":10.77,"v":37},{"s":"cd4","a":11.0,"v":34},{"s":"cd4","a":11.26,"v":38.5},{"s":"cd4","a":11.6,"v":36.5},{"s":"cd4","a":11.86,"v":37.7},{"s":"cd4","a":12.1,"v":33.6},{"s":"cd4","a":12.34,"v":40},{"s":"cd4","a":12.7,"v":39},{"s":"cd4","a":13.1,"v":38.5},{"s":"cd4","a":13.3,"v":39},{"s":"cd4","a":13.55,"v":40},{"s":"cd4","a":13.8,"v":38.5},{"s":"cd4","a":14.0,"v":37.7},
  {"s":"cd8","a":0.02,"v":7.2},{"s":"cd8","a":0.14,"v":10.9},{"s":"cd8","a":0.31,"v":8.5},{"s":"cd8","a":0.5,"v":2.9},{"s":"cd8","a":0.7,"v":4.8},{"s":"cd8","a":0.87,"v":8.5},{"s":"cd8","a":1.1,"v":5.3},{"s":"cd8","a":1.35,"v":6.7},{"s":"cd8","a":1.67,"v":6},{"s":"cd8","a":2.2,"v":5.3},{"s":"cd8","a":2.9,"v":4.3},{"s":"cd8","a":3.89,"v":4.8},{"s":"cd8","a":4.1,"v":6},{"s":"cd8","a":5.58,"v":8.5},{"s":"cd8","a":6.3,"v":6},{"s":"cd8","a":13.9,"v":2.4},
  {"s":"lt50","a":0.4,"v":20},{"s":"lt50","a":0.7,"v":20},{"s":"lt50","a":1.0,"v":20},{"s":"lt50","a":1.3,"v":20},{"s":"lt50","a":1.6,"v":20},{"s":"lt50","a":1.9,"v":20},{"s":"lt50","a":2.2,"v":20},{"s":"lt50","a":2.5,"v":20},{"s":"lt50","a":2.8,"v":20},{"s":"lt50","a":3.1,"v":20},{"s":"lt50","a":3.4,"v":20},{"s":"lt50","a":3.7,"v":20},{"s":"lt50","a":4.0,"v":20},{"s":"lt50","a":4.3,"v":20},{"s":"lt50","a":4.6,"v":20},{"s":"lt50","a":4.9,"v":20},{"s":"lt50","a":5.2,"v":20},{"s":"lt50","a":5.5,"v":20},{"s":"lt50","a":5.8,"v":20},{"s":"lt50","a":6.1,"v":20},{"s":"lt50","a":9.6,"v":20},
  {"s":"lt75","a":6.4,"v":20},{"s":"lt75","a":6.7,"v":20},{"s":"lt75","a":7.0,"v":20},{"s":"lt75","a":7.3,"v":20},{"s":"lt75","a":7.6,"v":20},{"s":"lt75","a":7.9,"v":20},{"s":"lt75","a":8.2,"v":20},{"s":"lt75","a":8.5,"v":20},{"s":"lt75","a":8.8,"v":20},{"s":"lt75","a":9.1,"v":20},{"s":"lt75","a":9.9,"v":20},{"s":"lt75","a":10.2,"v":20},{"s":"lt75","a":10.5,"v":20},{"s":"lt75","a":10.8,"v":20},{"s":"lt75","a":11.1,"v":20},{"s":"lt75","a":11.4,"v":20},{"s":"lt75","a":11.7,"v":20},{"s":"lt75","a":12.0,"v":20},{"s":"lt75","a":12.3,"v":20},{"s":"lt75","a":12.6,"v":20},{"s":"lt75","a":12.9,"v":20},{"s":"lt75","a":13.2,"v":20},{"s":"lt75","a":13.5,"v":20},{"s":"lt75","a":13.8,"v":20},{"s":"lt75","a":14.1,"v":20},{"s":"lt75","a":14.4,"v":20}
 ]},
 "encoding": {"x": {"field": "a", "type": "quantitative", "scale": {"domain": [0, 15], "nice": false}, "axis": {"values": [0, 5, 10, 15], "title": "Age, y"}}},
 "layer": [
  {"encoding": {"y": {"field": "v", "type": "quantitative", "scale": {"type": "log", "domain": [100, 1000000], "nice": false}, "axis": {"values": [100,200,300,400,500,600,700,800,900,1000,2000,3000,4000,5000,6000,7000,8000,9000,10000,20000,30000,40000,50000,60000,70000,80000,90000,100000,200000,300000,400000,500000,600000,700000,800000,900000,1000000], "tickSize": {"condition": {"test": "abs(log(datum.value)/LN10 - round(log(datum.value)/LN10)) < 0.01", "value": 4}, "value": 2}, "labelExpr": "abs(log(datum.value)/LN10 - round(log(datum.value)/LN10)) < 0.01 ? '10' + ['⁰','¹','²','³','⁴','⁵','⁶'][round(log(datum.value)/LN10)] : ''", "title": "HIV-1 RNA level, copies/mL", "titleFontSize": 12, "titlePadding": 3, "titleY": 74.5}}},
   "layer": [
    {"transform": [{"filter": "datum.s == 'lo'"}], "mark": {"type": "line", "color": "black", "strokeWidth": 4.5}},
    {"transform": [{"filter": "datum.s == 'hiv'"}], "mark": {"type": "line", "color": "black", "strokeWidth": 2, "point": {"shape": "square", "size": 14, "filled": true, "color": "black", "opacity": 1}}}
   ]},
  {"encoding": {"y": {"field": "v", "type": "quantitative", "scale": {"domain": [0, 100], "nice": false}, "axis": {"orient": "right", "values": [0, 20, 40, 60, 80, 100], "title": ["CD4⁺ and activated CD8⁺", "T-cell percentages"], "titleLineHeight": 13, "titlePadding": 5}}},
   "layer": [
    {"transform": [{"filter": "datum.s == 'cd4'"}], "mark": {"type": "line", "color": "#2c4ea3", "strokeWidth": 1.5, "point": {"shape": "diamond", "size": 10, "filled": true, "color": "#2c4ea3", "opacity": 1}}},
    {"transform": [{"filter": "datum.s == 'cd8'"}], "mark": {"type": "line", "color": "#2aa845", "strokeWidth": 1.5, "point": {"shape": "triangle-up", "size": 10, "filled": true, "color": "#2aa845", "opacity": 1}}},
    {"transform": [{"filter": "datum.s == 'lt50'"}], "mark": {"type": "point", "shape": "circle", "size": 14, "filled": true, "color": "black", "opacity": 1}},
    {"transform": [{"filter": "datum.s == 'lt75'"}], "mark": {"type": "point", "shape": "circle", "size": 14, "filled": true, "fill": "white", "stroke": "black", "strokeWidth": 0.8, "opacity": 1}}
   ]}
 ],
 "resolve": {"scale": {"y": "independent"}}
}
]
}
